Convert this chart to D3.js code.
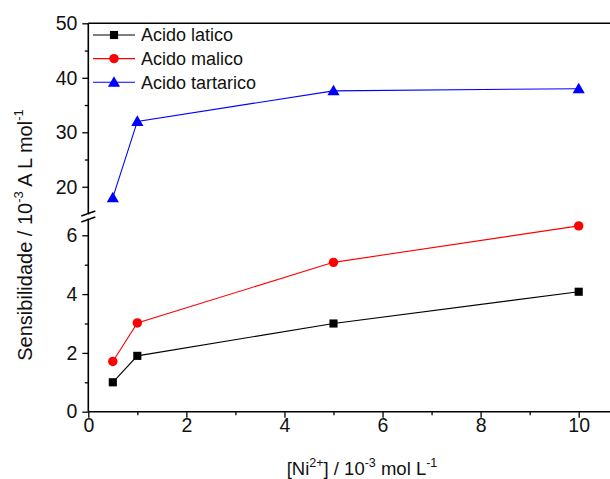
<!DOCTYPE html>
<html>
<head>
<meta charset="utf-8">
<script src="https://cdn.jsdelivr.net/npm/d3@7"></script>
<style>
  html, body { margin: 0; padding: 0; background: #fff; }
  svg { display: block; font-family: Arial, "Liberation Sans", sans-serif; }
</style>
</head>
<body>
<svg id="chart" width="610" height="479"></svg>
<script>
// Ni2+ concentration (10^-3 mol/L)
const concentrations = [0.5, 1, 5, 10];
// Sensitivity (10^-3 A L/mol) per acid
const lacticValues   = [1.0, 1.9, 3.0, 4.08];
const malicValues    = [1.71, 3.02, 5.08, 6.32];
const tartaricValues = [18.0, 32.0, 37.6, 38.0];
const seriesNames = ["Acido latico", "Acido malico", "Acido tartarico"];
const xTickValues = [0, 2, 4, 6, 8, 10];
const lowerTickValues = [0, 2, 4, 6];
const upperTickValues = [20, 30, 40, 50];

const svg = d3.select("#chart");
const plotLeft = 88.3, plotBottom = 411.7, plotTop = 23.3;

const x = d3.scaleLinear().domain([0, 10]).range([plotLeft, 578.7]);
// broken y axis: lower panel 0–6.5, upper panel 15–50
const yLow = d3.scaleLinear().domain([0, 6.5]).range([plotBottom, 220.6]);
const yUp  = d3.scaleLinear().domain([15, 50]).range([214.0, plotTop]);

const series = [
  { name: seriesNames[0], values: lacticValues,   color: "#000000", shape: "square",   y: yLow },
  { name: seriesNames[1], values: malicValues,    color: "#ff0000", shape: "circle",   y: yLow },
  { name: seriesNames[2], values: tartaricValues, color: "#0000ff", shape: "triangle", y: yUp  }
];

const symbolFor = {
  square: d3.symbol().type(d3.symbolSquare).size(66),
  circle: d3.symbol().type(d3.symbolCircle).size(70),
  triangle: d3.symbol().type(d3.symbolTriangle).size(64)
};

const axisColor = "#000";
const tickFont = "19.5px";

// bottom axis (extends past the right edge)
const xAxis = d3.axisBottom(x)
  .tickValues(d3.range(0, 11, 1))
  .tickSize(6).tickSizeOuter(0)
  .tickFormat(d => xTickValues.includes(d) ? d : "");
const gx = svg.append("g").attr("transform", `translate(0,${plotBottom})`).call(xAxis);
gx.select(".domain").remove();
gx.selectAll(".tick line").attr("stroke", axisColor).attr("stroke-width", 1.3)
  .attr("y2", d => xTickValues.includes(d) ? 6 : 3.5);
gx.selectAll(".tick text").attr("font-size", tickFont).attr("fill", "#111")
  .attr("y", 20.7).attr("dy", 0);
svg.append("line").attr("x1", plotLeft).attr("x2", 615).attr("y1", plotBottom).attr("y2", plotBottom)
  .attr("stroke", axisColor).attr("stroke-width", 1.6);

// top border
svg.append("line").attr("x1", plotLeft).attr("x2", 615).attr("y1", plotTop).attr("y2", plotTop)
  .attr("stroke", axisColor).attr("stroke-width", 1.6);

// left axis line
svg.append("line").attr("x1", plotLeft).attr("x2", plotLeft).attr("y1", plotTop).attr("y2", plotBottom)
  .attr("stroke", axisColor).attr("stroke-width", 1.6);

// lower y ticks
const gyl = svg.append("g").attr("transform", `translate(${plotLeft},0)`)
  .call(d3.axisLeft(yLow).tickValues([0, 1, 2, 3, 4, 5, 6]).tickSize(6).tickSizeOuter(0)
    .tickFormat(d => lowerTickValues.includes(d) ? d : ""));
gyl.select(".domain").remove();
gyl.selectAll(".tick line").attr("stroke", axisColor).attr("stroke-width", 1.3)
  .attr("x2", d => lowerTickValues.includes(d) ? -6 : -3.5);
gyl.selectAll(".tick text").attr("font-size", tickFont).attr("fill", "#111").attr("dx", "-0.1em");

// upper y ticks
const gyu = svg.append("g").attr("transform", `translate(${plotLeft},0)`)
  .call(d3.axisLeft(yUp).tickValues([20, 25, 30, 35, 40, 45, 50]).tickSize(6).tickSizeOuter(0)
    .tickFormat(d => upperTickValues.includes(d) ? d : ""));
gyu.select(".domain").remove();
gyu.selectAll(".tick line").attr("stroke", axisColor).attr("stroke-width", 1.3)
  .attr("x2", d => upperTickValues.includes(d) ? -6 : -3.5);
gyu.selectAll(".tick text").attr("font-size", tickFont).attr("fill", "#111").attr("dx", "-0.1em");

// axis break marks
const breakMarks = svg.append("g").attr("stroke", axisColor).attr("stroke-width", 1.5);
breakMarks.append("line").attr("x1", plotLeft - 7).attr("y1", 216).attr("x2", plotLeft + 7).attr("y2", 211);
breakMarks.append("line").attr("x1", plotLeft - 7).attr("y1", 222).attr("x2", plotLeft + 7).attr("y2", 217);
// gap between the marks
svg.append("line").attr("x1", plotLeft).attr("x2", plotLeft).attr("y1", 214.5).attr("y2", 218.5)
  .attr("stroke", "#fff").attr("stroke-width", 2.5);

// series lines and markers
series.forEach(s => {
  const pts = concentrations.map((c, i) => [x(c), s.y(s.values[i])]);
  svg.append("path")
    .attr("d", d3.line()(pts))
    .attr("fill", "none").attr("stroke", s.color).attr("stroke-width", 1.1);
  svg.selectAll(null).data(pts).enter().append("path")
    .attr("d", symbolFor[s.shape]())
    .attr("transform", d => `translate(${d[0]},${d[1] + (s.shape === "triangle" ? 1 : 0)})`)
    .attr("fill", s.color);
});

// legend
const legend = svg.append("g");
series.forEach((s, i) => {
  const ly = 35 + i * 23.6;
  legend.append("line").attr("x1", 93).attr("x2", 135).attr("y1", ly).attr("y2", ly)
    .attr("stroke", s.color).attr("stroke-width", 1.1);
  legend.append("path").attr("d", symbolFor[s.shape]())
    .attr("transform", `translate(114,${ly + (s.shape === "triangle" ? 1 : 0)})`).attr("fill", s.color);
  legend.append("text").attr("x", 141).attr("y", ly).attr("dy", "0.36em")
    .attr("font-size", "18px").attr("fill", "#111").text(s.name);
});

// x axis title
const xt = svg.append("text").attr("x", 362).attr("y", 475).attr("text-anchor", "middle")
  .attr("font-size", "18.5px").attr("fill", "#111");
xt.append("tspan").text("[Ni");
xt.append("tspan").attr("font-size", "12.5px").attr("dy", "-8").text("2+");
xt.append("tspan").attr("dy", "8").text("] / 10");
xt.append("tspan").attr("font-size", "12.5px").attr("dy", "-8").text("-3");
xt.append("tspan").attr("dy", "8").text(" mol L");
xt.append("tspan").attr("font-size", "12.5px").attr("dy", "-8").text("-1");

// y axis title
const yt = svg.append("text").attr("transform", "translate(32,235) rotate(-90)")
  .attr("text-anchor", "middle").attr("font-size", "20px").attr("fill", "#111");
yt.append("tspan").text("Sensibilidade / 10");
yt.append("tspan").attr("font-size", "13px").attr("dy", "-9").text("-3");
yt.append("tspan").attr("dy", "9").text(" A L mol");
yt.append("tspan").attr("font-size", "13px").attr("dy", "-9").text("-1");
</script>
</body>
</html>
